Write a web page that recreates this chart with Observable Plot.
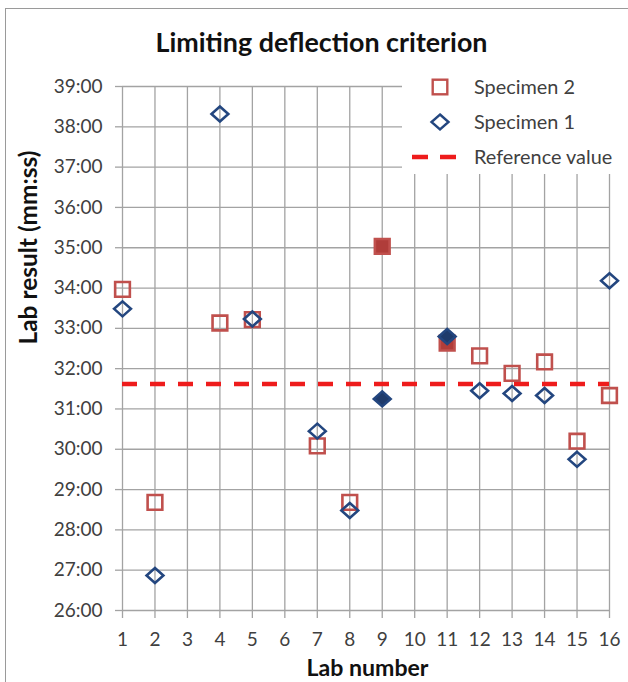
<!DOCTYPE html>
<html><head><meta charset="utf-8">
<script src="https://cdn.jsdelivr.net/npm/d3@7"></script>
<script src="https://cdn.jsdelivr.net/npm/@observablehq/plot@0.6"></script>
<style>
body{margin:0;background:#fff;}
#wrap{position:relative;width:628px;height:682px;overflow:hidden;background:#fff;}
#frame{position:absolute;left:5px;top:8px;width:700px;height:700px;border:1.5px solid #9a9a9a;pointer-events:none;}
#legend{position:absolute;left:402px;top:66px;width:218px;height:108px;background:#fff;}
#legend svg{display:block;}
</style></head><body>
<div id="wrap"><div id="frame"></div></div>
<script>
// ---- data ----
const labs       = [1, 2, 4, 5, 7, 8, 9, 11, 12, 13, 14, 15, 16];
const specimen2  = ["33:58","28:41","33:08","33:13","30:05","28:41","35:02","32:38","32:19","31:53","32:10","30:12","31:20"];
const specimen1  = ["33:29","26:52","38:19","33:14","30:27","28:29","31:15","32:48","31:27","31:23","31:20","29:45","34:11"];
const flaggedLabs = [9, 11];             // drawn with filled markers
const referenceValue = "31:37";
const xTickLabels = [1,2,3,4,5,6,7,8,9,10,11,12,13,14,15,16];
const yTickLabels = ["26:00","27:00","28:00","29:00","30:00","31:00","32:00","33:00","34:00","35:00","36:00","37:00","38:00","39:00"];
const seriesNames = ["Specimen 2", "Specimen 1", "Reference value"];
const titleText = "Limiting deflection criterion";
const xLabel = "Lab number";
const yLabel = "Lab result (mm:ss)";

const toMin = s => { const [m, sec] = s.split(":").map(Number); return m + sec / 60; };
const fmt = v => { const m = Math.floor(v + 1e-9); const s = Math.round((v - m) * 60); return m + ":" + String(s).padStart(2, "0"); };

const rows2 = labs.map((l, i) => ({lab: l, v: toMin(specimen2[i]), filled: flaggedLabs.includes(l)}));
const rows1 = labs.map((l, i) => ({lab: l, v: toMin(specimen1[i]), filled: flaggedLabs.includes(l)}));
const yTicks = yTickLabels.map(toMin);

const RED = "#c0504d", RED_FILL = "#b03d3a", BLUE = "#23467f", BLUE_FILL = "#1f3b6b", GRID = "#a3a3a3";
const FONT = "Lato, 'Open Sans', sans-serif";

// wide diamond symbol
const wideDiamond = {
  draw(ctx, size) {
    const r = Math.sqrt(size / Math.PI);
    const w = r * 1.2, h = r * 1.07;
    ctx.moveTo(0, -h); ctx.lineTo(w, 0); ctx.lineTo(0, h); ctx.lineTo(-w, 0); ctx.closePath();
  }
};

const chart = Plot.plot({
  width: 628, height: 682,
  marginLeft: 122, marginRight: 19, marginTop: 86, marginBottom: 72,
  style: {fontFamily: FONT, background: "transparent", overflow: "visible"},
  x: {type: "linear", domain: [1, 16]},
  y: {type: "linear", domain: [26, 39]},
  marks: [
    Plot.gridX(xTickLabels, {stroke: GRID, strokeOpacity: 1, strokeWidth: 1.3}),
    Plot.gridY(yTicks, {stroke: GRID, strokeOpacity: 1, strokeWidth: 1.3}),
    Plot.axisX(xTickLabels, {tickSize: 8, tickPadding: 14, stroke: GRID, strokeWidth: 1.3, fill: "#404040", fontSize: 19, label: null, tickFormat: d => String(d)}),
    Plot.axisY(yTicks, {tickSize: 7, tickPadding: 13, stroke: GRID, strokeWidth: 1.3, fill: "#404040", fontSize: 19, label: null, tickFormat: fmt}),
    Plot.ruleY([toMin(referenceValue)], {stroke: "#ee1c1c", strokeWidth: 4.5, strokeDasharray: "15,13"}),
    Plot.dot(rows2, {x: "lab", y: "v", symbol: "square", r: 8.3, stroke: RED, strokeWidth: 2.6,
      fill: d => d.filled ? RED_FILL : "none"}),
    Plot.dot(rows1, {x: "lab", y: "v", symbol: wideDiamond, r: 7, stroke: BLUE, strokeWidth: 2.6,
      fill: d => d.filled ? BLUE_FILL : "none"}),
    Plot.text([titleText], {className: "t-title", frameAnchor: "top", dy: -43, dx: -44.5, lineAnchor: "middle", fontSize: 26, fontWeight: "bold", fill: "#111", fontFamily: FONT}),
    Plot.text([yLabel], {className: "t-ylab", frameAnchor: "left", rotate: -90, dx: -93, dy: -4, fontSize: 20, fontWeight: "bold", fill: "#111", fontFamily: FONT}),
    Plot.text([xLabel], {className: "t-xlab", frameAnchor: "bottom", dy: 58, dx: 1.5, lineAnchor: "middle", fontSize: 22, fontWeight: "bold", fill: "#111", fontFamily: FONT})
  ]
});
document.getElementById("wrap").appendChild(chart);

// fit text widths to the reference proportions
function fit(sel, target) {
  const node = d3.select(chart).select(sel).node();
  if (!node) return;
  const len = node.getComputedTextLength();
  const fs = parseFloat(getComputedStyle(node).fontSize);
  if (len > 0) node.setAttribute("font-size", (fs * target / len).toFixed(2));
}
fit(".t-title text", 332);
fit(".t-ylab text", 194);
fit(".t-xlab text", 122);

// ---- legend ----
const leg = document.createElement("div");
leg.id = "legend";
document.getElementById("wrap").appendChild(leg);
const svg = d3.select(leg).append("svg").attr("width", 218).attr("height", 108);
const rowsY = [21, 56, 91];
svg.append("rect").attr("x", 38 - 7.3).attr("y", rowsY[0] - 7.3).attr("width", 14.6).attr("height", 14.6)
  .attr("fill", "none").attr("stroke", RED).attr("stroke-width", 2.4);
svg.append("path").attr("d", `M38,${rowsY[1]-7.5}L46.5,${rowsY[1]}L38,${rowsY[1]+7.5}L29.5,${rowsY[1]}Z`)
  .attr("fill", "none").attr("stroke", BLUE).attr("stroke-width", 2.4);
svg.append("line").attr("x1", 10).attr("x2", 56).attr("y1", rowsY[2]).attr("y2", rowsY[2])
  .attr("stroke", "#ee1c1c").attr("stroke-width", 4.5).attr("stroke-dasharray", "16,12");
const labels = seriesNames.map((n, i) =>
  svg.append("text").attr("x", 72).attr("y", rowsY[i]).attr("dy", "0.35em")
    .attr("font-family", FONT).attr("font-size", 19).attr("fill", "#404040").text(n));
const l0 = labels[0].node().getComputedTextLength();
if (l0 > 0) { const fs = 19 * 101 / l0; labels.forEach(t => t.attr("font-size", fs.toFixed(2))); }
</script>
</body></html>
